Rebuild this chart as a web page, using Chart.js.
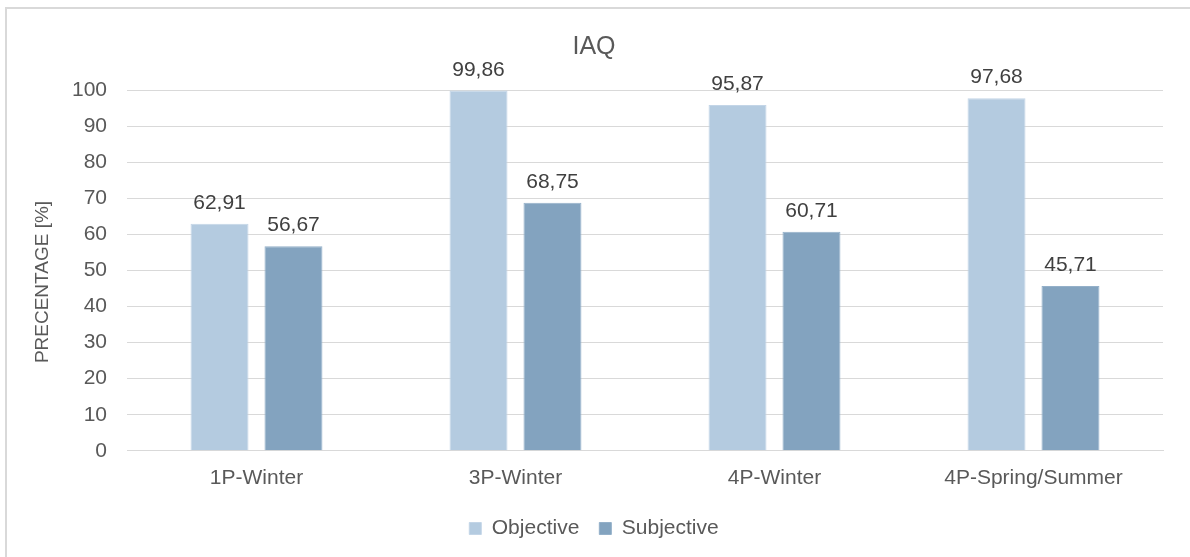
<!DOCTYPE html>
<html>
<head>
<meta charset="utf-8">
<script src="https://cdn.jsdelivr.net/npm/chart.js@4/dist/chart.umd.min.js"></script>
<style>
  html, body { margin: 0; padding: 0; background: #fff; overflow: hidden; }
  #frame { position: absolute; left: 5px; top: 7px; width: 1200px; height: 600px;
           border-left: 2px solid #d9d9d9; border-top: 2px solid #d9d9d9; }
  #wrap { position: absolute; left: 0; top: 0; width: 1190px; height: 557px; }
</style>
</head>
<body>
<div id="frame"></div>
<div id="wrap"><canvas id="myChart" width="1190" height="557"></canvas></div>
<script>
const categories = ['1P-Winter', '3P-Winter', '4P-Winter', '4P-Spring/Summer'];
const objective = [62.91, 99.86, 95.87, 97.68];
const subjective = [56.67, 68.75, 60.71, 45.71];
const yTicks = [0, 10, 20, 30, 40, 50, 60, 70, 80, 90, 100];
const yTitle = 'PRECENTAGE [%]';

const FONT = 'Arial, "Liberation Sans", sans-serif';

// value labels above each bar (decimal comma) and the rotated y title
const barLabels = {
  id: 'barLabels',
  afterDatasetsDraw(chart) {
    const ctx = chart.ctx;
    ctx.save();
    ctx.font = '21px ' + FONT;
    ctx.fillStyle = '#404040';
    ctx.textAlign = 'center';
    ctx.textBaseline = 'alphabetic';
    chart.data.datasets.forEach((ds, i) => {
      chart.getDatasetMeta(i).data.forEach((bar, j) => {
        const txt = ds.data[j].toFixed(2).replace('.', ',');
        ctx.fillText(txt, bar.x, bar.y - 15);
      });
    });
    ctx.restore();

    ctx.save();
    ctx.font = '19px ' + FONT;
    ctx.fillStyle = '#595959';
    ctx.textAlign = 'center';
    ctx.textBaseline = 'middle';
    ctx.translate(43, 282);
    ctx.rotate(-Math.PI / 2);
    ctx.fillText(yTitle, 0, 0);
    ctx.restore();
  }
};

const chartData = {
  labels: categories,
  datasets: [{
    label: 'Objective',
    data: objective,
    backgroundColor: '#b4cbe0',
    borderColor: '#c3d5e7',
    borderWidth: 1
  }, {
    label: 'Subjective',
    data: subjective,
    backgroundColor: '#83a3bf',
    borderColor: '#94b0c9',
    borderWidth: 1
  }]
};

const chartOptions = {
  responsive: false,
  animation: false,
  layout: { padding: { left: 25, right: 27, top: 0, bottom: 8 } },
  datasets: { bar: { categoryPercentage: 0.571, barPercentage: 0.784 } },
  scales: {
    x: {
      grid: { display: false },
      border: { color: '#d9d9d9', width: 1 },
      ticks: { color: '#595959', font: { family: FONT, size: 21 }, padding: 7 }
    },
    y: {
      min: 0,
      max: 100,
      afterBuildTicks(scale) { scale.ticks = yTicks.map(v => ({ value: v })); },
      afterFit(scale) { scale.width = 102; },
      grid: { color: '#d9d9d9', lineWidth: 1, drawTicks: false },
      border: { display: false },
      ticks: { color: '#595959', font: { family: FONT, size: 21 }, padding: 20 }
    }
  },
  plugins: {
    title: {
      display: true,
      text: 'IAQ',
      color: '#595959',
      font: { family: FONT, size: 25, weight: 'normal' },
      padding: { top: 32, bottom: 28 }
    },
    legend: {
      position: 'bottom',
      labels: {
        color: '#595959',
        font: { family: FONT, size: 21 },
        boxWidth: 12,
        boxHeight: 12,
        padding: 20
      }
    },
    tooltip: { enabled: false }
  }
};

const ctx = document.getElementById('myChart').getContext('2d');
const myChart = new Chart(ctx, {
  type: 'bar',
  data: chartData,
  options: chartOptions,
  plugins: [barLabels]
});
</script>
</body>
</html>
